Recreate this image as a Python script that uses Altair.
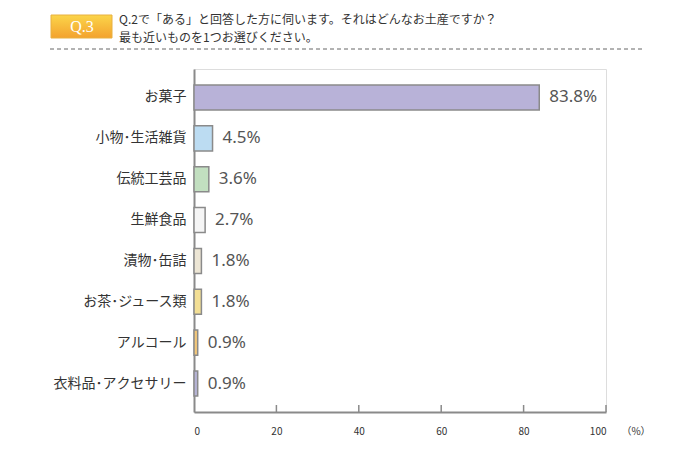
import altair as alt
import pandas as pd

categories = ["お菓子", "小物･生活雑貨", "伝統工芸品", "生鮮食品", "漬物･缶詰",
              "お茶･ジュース類", "アルコール", "衣料品･アクセサリー"]
values = [83.8, 4.5, 3.6, 2.7, 1.8, 1.8, 0.9, 0.9]
colors = ["#b8b2d8", "#bcdcf2", "#c2dfc0", "#f5f5f5", "#ede6d5",
          "#f3df95", "#f2c77a", "#b5b3d5"]
x_ticks = [0, 20, 40, 60, 80, 100]
question_label = "Q.3"
question_lines = ["Q.2で「ある」と回答した方に伺います。それはどんなお土産ですか？",
                  "最も近いものを1つお選びください。"]
unit_label = "（%）"

FONT = "Noto Sans CJK JP"
W, H = 412, 343

df = pd.DataFrame({"cat": categories, "val": values, "color": colors,
                   "label": [f"{v:.1f}%" for v in values]})

y_enc = alt.Y("cat:N", sort=categories, title=None,
              scale=alt.Scale(paddingInner=0.386, paddingOuter=0.39),
              axis=alt.Axis(domainColor="#8a8a8a", domainWidth=2, ticks=False,
                            labelFontSize=14, labelPadding=8, labelColor="#333",
                            labelFont=FONT))
x_enc = alt.X("val:Q", title=None,
              scale=alt.Scale(domain=[0, 100], nice=False),
              axis=alt.Axis(values=x_ticks, grid=False, ticks=False,
                            domainColor="#8a8a8a", domainWidth=2,
                            labelFontSize=10, labelColor="#333", labelFont=FONT,
                            labelPadding=14))

bars = alt.Chart(df).mark_bar(stroke="#8a8a8a", strokeWidth=1.5).encode(
    x=x_enc, y=y_enc, color=alt.Color("color:N", scale=None))

texts = alt.Chart(df).mark_text(align="left", baseline="middle", dx=10,
                                fontSize=17, color="#555", font="Noto Sans").encode(
    x="val:Q", y=alt.Y("cat:N", sort=categories), text="label:N")

tick_df = pd.DataFrame({"t": x_ticks[1:]})
ticks = alt.Chart(tick_df).mark_rule(color="#8a8a8a", strokeWidth=1.5).encode(
    x="t:Q", y=alt.value(H - 7), y2=alt.value(H))

unit = alt.Chart(pd.DataFrame({"u": [unit_label]})).mark_text(
    fontSize=10, color="#333", font=FONT, baseline="middle").encode(
    x=alt.value(W + 30), y=alt.value(H + 20), text="u:N")

badge = alt.Chart(pd.DataFrame({"a": [0]})).mark_rect(
    color=alt.Gradient(gradient="linear", x1=0, y1=0, x2=0, y2=1,
                       stops=[alt.GradientStop(color="#fbd54a", offset=0),
                              alt.GradientStop(color="#f3a22e", offset=1)]),
    stroke="#e8b040", strokeWidth=1).encode(
    x=alt.value(-143), x2=alt.value(-82), y=alt.value(-54), y2=alt.value(-31))

badge_text = alt.Chart(pd.DataFrame({"q": [question_label]})).mark_text(
    fontSize=16, color="white", font="Liberation Serif", baseline="middle").encode(
    x=alt.value(-112), y=alt.value(-42), text="q:N")

qdf = pd.DataFrame({"q": ["\n".join(question_lines)]})
qtext = alt.Chart(qdf).mark_text(
    align="left", baseline="middle", fontSize=12, color="#333", font=FONT,
    lineBreak="\n", lineHeight=17.5).encode(
    x=alt.value(-75), y=alt.value(-49), text="q:N")

dash = alt.Chart(pd.DataFrame({"a": [0]})).mark_rule(
    color="#666", strokeWidth=1, strokeDash=[4, 3]).encode(
    x=alt.value(-144), x2=alt.value(451), y=alt.value(-20))

chart = alt.layer(bars, texts, ticks, unit, badge, badge_text, qtext, dash).properties(
    width=W, height=H,
    autosize=alt.AutoSizeParams(type="none"),
    padding={"left": 194, "top": 69, "right": 74, "bottom": 38},
).configure_view(stroke=None).configure(background="white")

chart.save("out.html", embed_options={"renderer": "svg", "actions": False})
